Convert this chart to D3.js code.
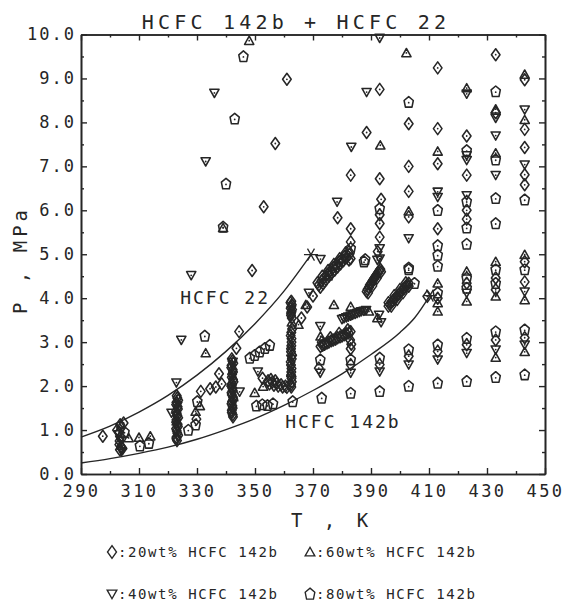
<!DOCTYPE html>
<html><head><meta charset="utf-8">
<script src="https://cdn.jsdelivr.net/npm/d3@7/dist/d3.min.js"></script>
<style>
html,body{margin:0;padding:0;background:#fff;}
svg{display:block;}
text{font-family:"DejaVu Sans Mono",monospace;fill:#262626;}
</style></head><body>
<svg id="chart" width="566" height="606"></svg>
<script>
// ---------------- DATA ----------------
const titleText = "HCFC 142b + HCFC 22";
const xTickLabels = [290,310,330,350,370,390,410,430,450];
const xMinorTicks = [300,320,340,360,380,400,420,440];
const yTickLabels = [0,1,2,3,4,5,6,7,8,9,10];
const yMinorTicks = [0.5,1.5,2.5,3.5,4.5,5.5,6.5,7.5,8.5,9.5];

// saturation curves (T K, P MPa)
const hcfc22Curve = [[290,0.84],[300,1.09],[310,1.41],[320,1.79],[330,2.25],[340,2.79],[350,3.42],[360,4.16],[369.3,4.99]];
const hcfc142bCurve = [[290,0.25],[300,0.35],[310,0.47],[320,0.61],[330,0.79],[340,1.01],[350,1.26],[360,1.56],[370,1.9],[380,2.28],[390,2.72],[400,3.22],[405,3.55],[410.3,4.06]];
const criticalPoints = [[369.3,4.99],[410.3,4.06]];

// ◇ 20 wt% HCFC 142b
const wt20 = [
 [361,8.98],[357,7.52],[353,6.08],[349,4.63],
 [413,9.24],[433,9.54],[393,8.75],[403,7.97],[413,7.86],[388.5,7.77],[423,7.69],[413,7.06],[403,7.0],
 [383,6.8],[393,6.72],[403,6.43],[423,6.8],[378.5,5.83],[393.5,6.25],[393,5.9],[393,5.7],[393,5.39],
 [403,5.85],[383,5.58],[383,5.28],[383,4.9],[413,5.58],[423,6.0],[423,5.8],[433,8.22],
 [443,8.97],[443,7.84],[443,7.43],[443,6.81],[443,6.58],[443,4.83],[443,4.37],[443,3.1],
 [433,4.46],[433,4.19],[433,3.05],[423,4.34],[423,2.94],[413,2.79],[403,2.68],[393,2.49],[383,2.49],[372,2.41],
 [382.4,5.06],[392.3,5.06],[382.4,4.87],[409.4,4.04],[413,4.0],
 [297.5,0.86],[303.5,1.12],[304.7,1.16],[302.4,1.0],[303.2,0.67],[304.3,0.58],
 [303.8,1.05],[303.2,0.95],[303.7,0.85],[303.3,0.75],[303.8,0.62],[303.4,0.55],
 [344.5,3.24],[343.6,2.86],[337.6,2.28],[352.6,2.18],[336.5,1.98],[338.5,2.05],[334.5,1.94],[331.3,1.88],[329.8,1.25],
 [323,1.78],[323.5,1.68],[322.8,1.58],[323.4,1.48],[323,1.38],[323.5,1.28],[322.8,1.18],[323.4,1.08],[323,0.98],[323.5,0.88],[322.9,0.8],
 [323.2,1.73],[322.9,1.63],[323.3,1.53],[322.8,1.43],[323.2,1.33],[322.9,1.23],[323.3,1.13],[322.8,1.03],[323.2,0.93],[322.9,0.84],[323.1,0.76],
 [342,2.62],[342.5,2.52],[341.8,2.42],[342.4,2.32],[342,2.2],[342.6,2.1],[341.8,2.0],[342.3,1.9],[342,1.8],[342.5,1.7],[341.9,1.6],[342.3,1.5],[342,1.4],[342.4,1.3],
 [342.2,2.57],[341.9,2.47],[342.3,2.37],[342.1,2.27],[342.4,2.15],[342.0,2.05],[342.2,1.95],[341.9,1.85],[342.4,1.75],[342.1,1.65],[342.2,1.55],[342,1.45],[342.3,1.35],
 [362.5,3.93],[362.7,3.85],[362.3,3.77],[362.6,3.69],[362.4,3.61],[362.8,3.3],[362.3,3.15],[362.6,3.0],[362.4,2.85],[362.8,2.7],[362.3,2.55],[362.6,2.4],[362.4,2.25],[362.7,2.1],[362.5,1.98],
 [362.2,3.9],[362.8,3.74],[362.4,3.66],[362.7,3.55],[362.5,3.81],
 [362.5,3.22],[362.6,3.08],[362.5,2.92],[362.4,2.78],[362.7,2.62],[362.4,2.48],[362.5,2.32],[362.6,2.18],[362.4,2.03],
 [366,3.55],[368,3.8],[370,4.05],
 [372,4.3],[373,4.4],[374,4.48],[375,4.55],[376,4.62],[377,4.7],[378,4.76],[379,4.83],[380,4.9],[381,4.96],
 [372.5,4.25],[373.5,4.33],[374.5,4.42],[375.5,4.5],[376.5,4.57],[377.5,4.64],[378.5,4.71],[379.5,4.78],[380.5,4.85],[381.5,4.92],[382.5,5.0],
 [371.5,4.35],[373.2,4.5],[375.2,4.63],[377.2,4.77],[379.2,4.9],[381.2,5.03],
 [388.5,4.15],[389.3,4.25],[390,4.33],[390.8,4.42],[391.6,4.5],[392.4,4.58],[393.2,4.66],
 [388.8,4.2],[389.6,4.3],[390.4,4.38],[391.2,4.46],[392,4.54],[392.8,4.62],[389,4.12],[390.5,4.28],[392,4.45],[393.5,4.6],
 [396,3.82],[397,3.9],[398,3.98],[399,4.05],[400,4.12],[401,4.2],[402,4.27],[403,4.34],
 [396.5,3.86],[397.5,3.94],[398.5,4.01],[399.5,4.09],[400.5,4.16],[401.5,4.23],[402.5,4.3],[397,3.82],[399,3.97],[401,4.12],[403,4.27],
 [396,3.9],[398,4.06],[400,4.2],[402,4.35],
 [372.6,2.9],[374,2.95],[375.5,3.0],[377,3.05],[378.5,3.1],[380,3.14],[381.5,3.19],[383,3.24],
 [373.3,2.93],[374.8,2.98],[376.3,3.03],[377.8,3.07],[379.3,3.12],[380.8,3.17],[382.3,3.21],[373,3.0],[376,3.1],[379,3.2],[382,3.28],
 [383,2.85],[383.2,2.95],[382.8,3.05],
 [354.5,2.12],[356,2.09],[357.5,2.06],[359,2.03],[360.5,2.0],
 [355,2.05],[356.5,2.02],[358,2.0],[359.5,1.98],[361,1.97],[355.5,2.15],[357,2.12]
];
// ▽ 40 wt% HCFC 142b
const wt40 = [
 [336,8.67],[333,7.11],[328,4.52],[393,9.92],[388.5,8.69],[423,8.65],[383.2,7.44],[423,7.14],[423,7.25],
 [433,8.1],[433,7.7],[433,6.8],[443,8.29],[443,7.04],[378.3,6.19],[413,6.42],[413,6.3],[423,6.34],
 [403,5.36],[393,5.13],[393,4.9],
 [324.6,3.05],[322.9,2.08],[321.2,1.39],[344.7,1.87],[351,2.33],[303,0.9],[303.5,0.78],[304,0.52],
 [368.6,4.12],[372.6,4.89],[392.2,4.87],
 [372.5,2.3],[383,2.3],[393,2.33],[403,2.49],[413,2.6],[423,2.75],[433,2.83],[443,2.94],[423,4.12],[443,4.15],
 [380,3.52],[381.5,3.56],[383,3.6],[384.5,3.64],[386,3.68],[387.5,3.71],[372.5,3.36],[392.8,3.62],[393.5,3.45],
 [380.7,3.54],[382.2,3.58],[383.7,3.62],[385.2,3.66],[386.7,3.7],[388.3,3.73],
 [323.2,1.55],[342.3,2.55],[362.5,2.62],[342,1.95]
];
// △ 60 wt% HCFC 142b
const wt60 = [
 [348,9.86],[402.2,9.58],[423,8.78],[443,9.09],[433,8.3],[393.2,7.48],[413,7.34],[433,7.3],[443,8.06],
 [339,5.6],[403,5.98],[423,4.61],[433,4.83],[443,4.99],
 [333,2.75],[306.4,0.82],[310,0.83],[313.9,0.86],[329.5,1.42],[331,1.55],[349.9,1.85],[352.8,1.99],[304,0.65],
 [413,4.34],[413,3.89],[413,3.7],[423,3.93],[433,4.04],[443,3.96],[443,2.78],[433,2.65],
 [377.2,3.85],[383,3.81],[389.3,3.7],[392.2,3.55],[367.5,3.85],[372.6,3.13],[365,3.4],
 [323,1.2],[342.5,1.75],[362.7,3.45],[362.5,2.3],[375,4.5]
];
// ⬠ 80 wt% HCFC 142b
const wt80 = [
 [346,9.5],[343,8.08],[340,6.6],[339,5.62],[403,8.46],[433,8.7],[423,7.36],[433,7.15],
 [413,6.0],[413,5.2],[413,4.98],[413,4.73],[423,6.2],[423,5.6],[423,5.23],[433,6.27],[433,5.7],[443,6.24],
 [393,6.04],[403,4.69],[388,4.88],[383,5.13],
 [332.7,3.14],[327,1.0],[329.5,1.12],[330.1,1.65],[310.3,0.64],[313.4,0.7],[305,0.95],
 [348.2,2.64],[349.9,2.7],[351.6,2.78],[353.4,2.86],[355.1,2.93],
 [350.5,1.55],[352.5,1.58],[354.3,1.56],[356.2,1.6],
 [363,1.65],[373,1.73],[383,1.84],[393,1.88],[403,2.0],[413,2.07],[423,2.11],[433,2.2],[443,2.26],
 [372.5,2.6],[383,2.6],[393,2.64],[403,2.83],[413,2.94],[423,3.09],[433,3.24],[443,3.28],
 [403,4.65],[405,4.34],[413,4.12],[423,4.46],[423,4.23],[433,4.65],[433,4.34],[443,4.65],[387.6,4.83]
];
const seriesNames = ["20wt% HCFC 142b","40wt% HCFC 142b","60wt% HCFC 142b","80wt% HCFC 142b"];
const curveLabels = ["HCFC 22","HCFC 142b"];

// ---------------- DRAW ----------------
const ink = "#262626";
const svg = d3.select("#chart");
svg.append("rect").attr("width",566).attr("height",606).attr("fill","#fff");
const x = d3.scaleLinear().domain([290,450]).range([81,545]);
const y = d3.scaleLinear().domain([0,10]).range([474,34.5]);
const L=x.range()[0], R=x.range()[1], T=y.range()[1], B=y.range()[0];

const shapes = {
  diamond: "M0,-6L4.3,0L0,6L-4.3,0Z",
  down: "M-4.6,-3.7L4.6,-3.7L0,4.5Z",
  up: "M0,-4.5L4.6,3.7L-4.6,3.7Z",
  pent: "M0,-5.6L4.6,-1.7L3.3,4.9L-3.3,4.9L-4.6,-1.7Z"
};

function styleAxis(g){
  g.selectAll("path.domain").attr("stroke",ink).attr("stroke-width",1.6);
  g.selectAll(".tick line").attr("stroke",ink).attr("stroke-width",1.4);
  g.selectAll("text").attr("fill",ink).style("font-family",'"DejaVu Sans Mono",monospace');
}
const gB = svg.append("g").attr("transform",`translate(0,${B})`)
  .call(d3.axisBottom(x).tickValues(xTickLabels).tickSizeInner(-6).tickSizeOuter(0).tickPadding(11).tickFormat(d3.format("d")));
gB.selectAll("text").style("font-size","17px").style("letter-spacing","2.5px");
styleAxis(gB);
const gBm = svg.append("g").attr("transform",`translate(0,${B})`)
  .call(d3.axisBottom(x).tickValues(xMinorTicks).tickSizeInner(-3).tickSizeOuter(0).tickFormat(""));
styleAxis(gBm);
const gT = svg.append("g").attr("transform",`translate(0,${T})`)
  .call(d3.axisTop(x).tickValues(xTickLabels).tickSizeInner(-6).tickSizeOuter(0).tickFormat(""));
styleAxis(gT);
const gTm = svg.append("g").attr("transform",`translate(0,${T})`)
  .call(d3.axisTop(x).tickValues(xMinorTicks).tickSizeInner(-3).tickSizeOuter(0).tickFormat(""));
styleAxis(gTm);
const gL = svg.append("g").attr("transform",`translate(${L},0)`)
  .call(d3.axisLeft(y).tickValues(yTickLabels).tickSizeInner(-6).tickSizeOuter(0).tickPadding(5).tickFormat(d3.format(".1f")));
gL.selectAll("text").style("font-size","17px").style("letter-spacing","2px");
styleAxis(gL);
const gLm = svg.append("g").attr("transform",`translate(${L},0)`)
  .call(d3.axisLeft(y).tickValues(yMinorTicks).tickSizeInner(-3).tickSizeOuter(0).tickFormat(""));
styleAxis(gLm);
const gR = svg.append("g").attr("transform",`translate(${R},0)`)
  .call(d3.axisRight(y).tickValues(yTickLabels).tickSizeInner(-6).tickSizeOuter(0).tickFormat(""));
styleAxis(gR);
const gRm = svg.append("g").attr("transform",`translate(${R},0)`)
  .call(d3.axisRight(y).tickValues(yMinorTicks).tickSizeInner(-3).tickSizeOuter(0).tickFormat(""));
styleAxis(gRm);

// curves
const line = d3.line().x(d=>x(d[0])).y(d=>y(d[1])).curve(d3.curveMonotoneX);
[hcfc22Curve,hcfc142bCurve].forEach(c=>{
  svg.append("path").datum(c).attr("d",line).attr("fill","none").attr("stroke",ink).attr("stroke-width",1.4);
});
const ast = "M-7,0L7,0M-3.5,-6L3.5,6M3.5,-6L-3.5,6";
svg.selectAll("path.crit").data(criticalPoints).join("path").attr("class","crit")
  .attr("d",ast).attr("transform",d=>`translate(${x(d[0])},${y(d[1])})`)
  .attr("stroke",ink).attr("stroke-width",1.3).attr("fill","none");

// markers
const series = [[wt20,"diamond"],[wt40,"down"],[wt60,"up"],[wt80,"pent"]];
series.forEach(([data,shape])=>{
  const g = svg.append("g");
  g.selectAll("path").data(data).join("path")
    .attr("d",shapes[shape]).attr("transform",d=>`translate(${x(d[0]).toFixed(1)},${y(d[1]).toFixed(1)})`)
    .attr("fill","none").attr("stroke",ink).attr("stroke-width",1.55).attr("stroke-linejoin","round");
  g.selectAll("circle").data(data).join("circle")
    .attr("cx",d=>x(d[0])).attr("cy",d=>y(d[1]) + (shape==="pent"?0.5:0)).attr("r",0.9).attr("fill",ink);
});

// curve labels
svg.append("text").attr("x",x(324.2)).attr("y",y(3.87)).text(curveLabels[0])
  .style("font-size","18px").style("letter-spacing","2px");
svg.append("text").attr("x",x(360.4)).attr("y",y(1.05)).text(curveLabels[1])
  .style("font-size","18px").style("letter-spacing","2px");

// title
svg.append("text").attr("x",296).attr("y",29).attr("text-anchor","middle").text(titleText)
  .style("font-size","20px").style("letter-spacing","4.2px");
// axis labels
svg.append("text").attr("x",332).attr("y",527).attr("text-anchor","middle").text("T , K")
  .style("font-size","19px").style("letter-spacing","5px");
svg.append("text").attr("transform","translate(27,260) rotate(-90)").attr("text-anchor","middle").text("P , MPa")
  .style("font-size","19px").style("letter-spacing","4px");

// legend
const legendPos = [[112,556],[112,598],[310,556],[310,598]];
const legendShapes = ["diamond","down","up","pent"];
legendShapes.forEach((s,i)=>{
  const [lx,ly] = legendPos[i];
  svg.append("path").attr("d",shapes[s]).attr("transform",`translate(${lx},${ly-4}) scale(1.05)`)
    .attr("fill","none").attr("stroke",ink).attr("stroke-width",1.3);
  svg.append("text").attr("x",lx+6).attr("y",ly+1).text(":"+seriesNames[i])
    .style("font-size","14px").style("letter-spacing","1.6px");
});
</script>
</body></html>
